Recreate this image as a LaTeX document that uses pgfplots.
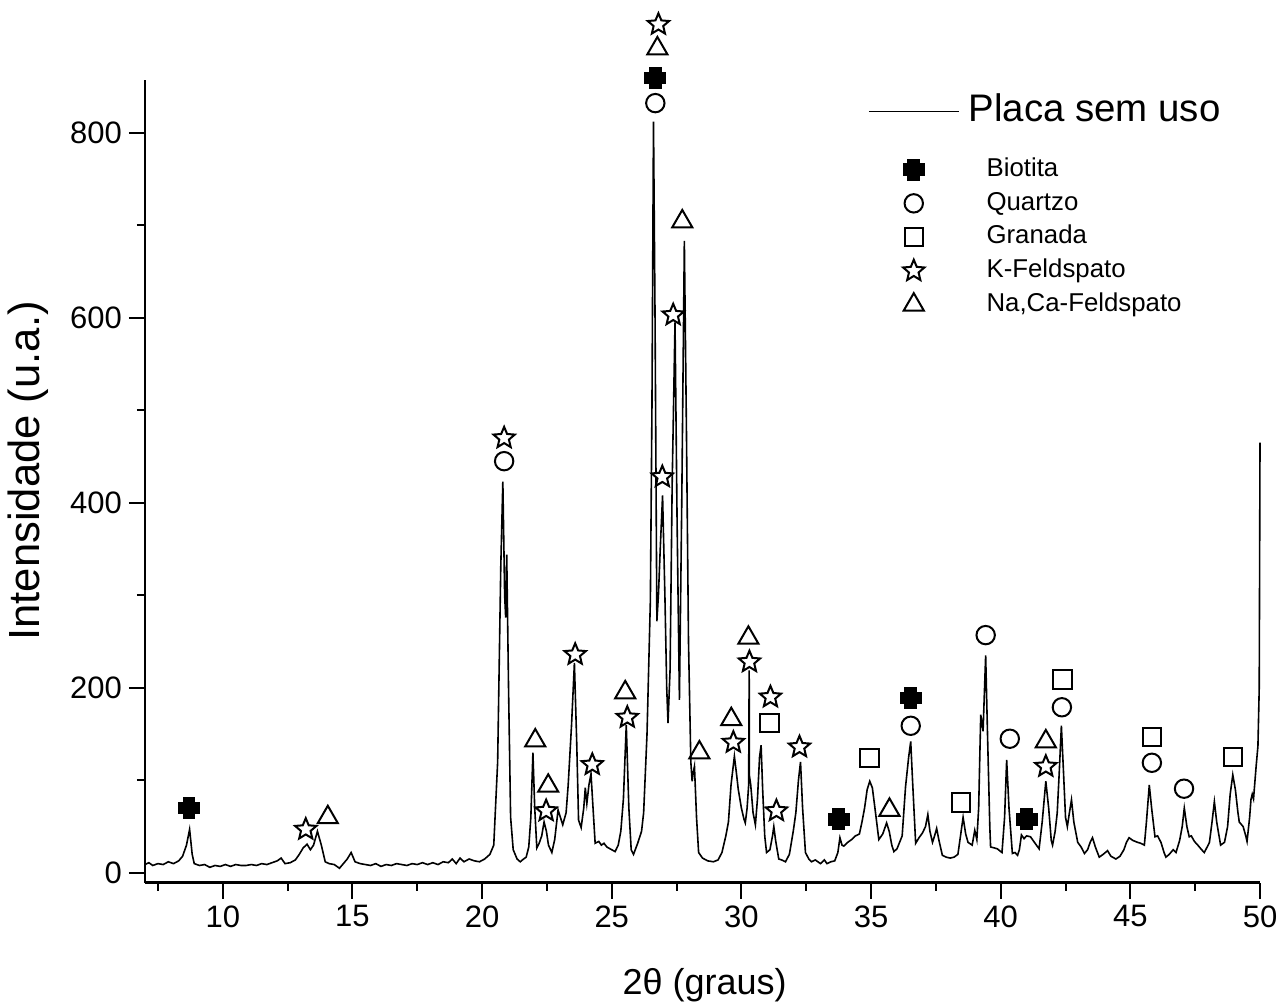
\documentclass[border=0pt]{standalone}
\usepackage{fontspec}
\setmainfont{Liberation Sans}
\usepackage{pgfplots}
\pgfplotsset{compat=1.18}

% thick filled plus used for Biotita
\pgfdeclareplotmark{fatplus}{%
  \pgfpathmoveto{\pgfqpoint{-0.55\pgfplotmarksize}{\pgfplotmarksize}}%
  \pgfpathlineto{\pgfqpoint{0.55\pgfplotmarksize}{\pgfplotmarksize}}%
  \pgfpathlineto{\pgfqpoint{0.55\pgfplotmarksize}{0.55\pgfplotmarksize}}%
  \pgfpathlineto{\pgfqpoint{\pgfplotmarksize}{0.55\pgfplotmarksize}}%
  \pgfpathlineto{\pgfqpoint{\pgfplotmarksize}{-0.55\pgfplotmarksize}}%
  \pgfpathlineto{\pgfqpoint{0.55\pgfplotmarksize}{-0.55\pgfplotmarksize}}%
  \pgfpathlineto{\pgfqpoint{0.55\pgfplotmarksize}{-\pgfplotmarksize}}%
  \pgfpathlineto{\pgfqpoint{-0.55\pgfplotmarksize}{-\pgfplotmarksize}}%
  \pgfpathlineto{\pgfqpoint{-0.55\pgfplotmarksize}{-0.55\pgfplotmarksize}}%
  \pgfpathlineto{\pgfqpoint{-\pgfplotmarksize}{-0.55\pgfplotmarksize}}%
  \pgfpathlineto{\pgfqpoint{-\pgfplotmarksize}{0.55\pgfplotmarksize}}%
  \pgfpathlineto{\pgfqpoint{-0.55\pgfplotmarksize}{0.55\pgfplotmarksize}}%
  \pgfpathclose
  \pgfusepathqfillstroke
}

% open five-point star used for K-Feldspato
\pgfdeclareplotmark{ostar}{%
  \pgfpathmoveto{\pgfqpointpolar{90}{\pgfplotmarksize}}%
  \pgfpathlineto{\pgfqpointpolar{126}{0.45\pgfplotmarksize}}%
  \pgfpathlineto{\pgfqpointpolar{162}{\pgfplotmarksize}}%
  \pgfpathlineto{\pgfqpointpolar{198}{0.45\pgfplotmarksize}}%
  \pgfpathlineto{\pgfqpointpolar{234}{\pgfplotmarksize}}%
  \pgfpathlineto{\pgfqpointpolar{270}{0.45\pgfplotmarksize}}%
  \pgfpathlineto{\pgfqpointpolar{306}{\pgfplotmarksize}}%
  \pgfpathlineto{\pgfqpointpolar{342}{0.45\pgfplotmarksize}}%
  \pgfpathlineto{\pgfqpointpolar{18}{\pgfplotmarksize}}%
  \pgfpathlineto{\pgfqpointpolar{54}{0.45\pgfplotmarksize}}%
  \pgfpathclose
  \pgfusepathqfillstroke
}

% legend sample of the measured curve, with extra room below its row
\pgfplotsset{lineleg/.style={legend image code/.code={%
  \draw[##1] (0pt,0pt) -- (45pt,0pt); \path[draw=none,fill=none] (0pt,0pt) -- (0pt,-18.1pt);}}}

\begin{document}
\begin{tikzpicture}
\begin{axis}[
  name=main,
  scale only axis,
  width=557.5pt, height=401.3pt,
  xmin=7, xmax=50,
  ymin=-10.5, ymax=857,
  axis x line*=bottom, axis y line*=left,
  axis line style={line width=1.3pt},
  xtick distance=5, minor x tick num=1,
  ytick distance=200, minor y tick num=1,
  tick align=outside,
  major tick length=8pt, minor tick length=4pt,
  every tick/.style={black, line width=1pt},
  /pgf/number format/assume math mode=true,
  tick label style={font=\fontsize{15.5pt}{17pt}\selectfont},
  xlabel={2θ (graus)},
  ylabel={Intensidade (u.a.)},
  xlabel style={font=\fontsize{18pt}{20pt}\selectfont, at={(axis description cs:0.502,-0.128)}, anchor=center},
  ylabel style={font=\fontsize{21.8pt}{24pt}\selectfont, at={(axis description cs:-0.105,0.513)}, anchor=center},
  clip=false,
  legend style={at={(axis description cs:0.6484,0.983)}, anchor=north west,
    draw=none, fill=none, inner sep=0pt, outer sep=0pt,
    row sep=4.8pt, column sep=13.5pt,
    font=\fontsize{12.9pt}{15pt}\selectfont,
    nodes={inner sep=0pt, text height=9.4pt, text depth=2.7pt}},
  legend cell align=left,
  legend image code/.code={\draw[mark repeat=2,mark phase=2,#1] plot coordinates {(0pt,0pt) (22.5pt,0pt) (45pt,0pt)};},
  mark options={solid, line width=1pt, fill=white},
]

\addplot[black, line width=0.8pt, mark=none, lineleg]
table {
x y
7.00 9
7.15 11
7.30 8
7.50 10
7.70 9
7.90 12
8.10 10
8.30 13
8.45 18
8.60 30
8.72 47
8.82 20
8.90 10
9.10 8
9.30 9
9.50 6
9.70 8
9.90 7
10.10 9
10.30 7
10.50 9
10.70 8
10.90 8
11.10 9
11.30 8
11.50 10
11.70 9
11.90 11
12.10 13
12.25 16
12.40 10
12.60 11
12.80 14
12.95 20
13.10 27
13.25 31
13.38 25
13.50 30
13.65 45
13.80 30
13.95 12
14.10 10
14.30 9
14.50 5
14.65 10
14.80 15
14.95 22
15.10 12
15.30 10
15.50 9
15.70 8
15.90 10
16.10 7
16.30 9
16.50 8
16.70 10
16.90 9
17.10 8
17.30 10
17.50 9
17.70 11
17.90 9
18.10 11
18.30 9
18.50 12
18.70 11
18.85 15
19.00 10
19.15 16
19.30 12
19.50 15
19.70 13
19.90 12
20.10 15
20.30 20
20.45 30
20.60 120
20.72 330
20.80 423
20.87 300
20.91 276
20.95 344
21.02 200
21.10 60
21.20 25
21.35 15
21.47 12
21.60 15
21.70 17
21.80 28
21.88 60
21.96 130
22.03 70
22.11 27
22.20 32
22.30 40
22.39 55
22.48 45
22.56 30
22.69 22
22.80 36
22.93 68
23.02 60
23.11 52
23.24 65
23.32 95
23.45 160
23.56 227
23.65 140
23.72 57
23.82 49
23.92 70
23.98 92
24.04 75
24.12 95
24.20 107
24.30 60
24.36 32
24.50 34
24.60 30
24.70 32
24.81 28
25.00 25
25.13 23
25.25 30
25.35 45
25.45 80
25.56 160
25.66 70
25.75 25
25.84 20
26.00 32
26.15 45
26.23 65
26.36 150
26.49 295
26.55 500
26.61 812
26.67 600
26.74 272
26.80 300
26.87 350
26.96 408
27.05 300
27.12 200
27.17 162
27.25 220
27.33 420
27.44 595
27.52 380
27.61 187
27.70 400
27.80 683
27.88 480
27.96 250
28.05 120
28.10 99
28.14 108
28.19 115
28.27 60
28.35 22
28.50 16
28.70 13
28.92 12
29.10 14
29.25 22
29.40 40
29.50 55
29.60 95
29.73 126
29.82 105
29.88 90
30.00 70
30.10 58
30.15 54
30.22 70
30.28 95
30.30 219
30.31 105
30.36 95
30.45 65
30.54 52
30.62 80
30.70 125
30.76 138
30.82 90
30.90 40
30.97 22
31.10 25
31.20 40
31.25 50
31.32 35
31.44 15
31.55 14
31.70 12
31.85 20
32.00 45
32.10 65
32.20 100
32.28 120
32.36 70
32.47 22
32.60 15
32.70 12
32.85 14
33.05 10
33.20 14
33.30 10
33.45 12
33.60 13
33.72 22
33.80 38
33.88 30
33.95 29
34.10 33
34.25 36
34.40 40
34.55 42
34.65 55
34.75 70
34.85 90
34.95 99
35.05 92
35.15 70
35.30 36
35.45 42
35.60 54
35.70 45
35.80 30
35.88 23
36.00 26
36.10 33
36.20 40
36.33 93
36.45 125
36.53 142
36.60 100
36.72 32
36.85 38
36.98 43
37.10 50
37.19 63
37.27 45
37.37 33
37.45 40
37.53 48
37.62 35
37.75 19
37.90 17
38.05 16
38.20 17
38.35 20
38.45 40
38.55 60
38.65 42
38.74 33
38.90 30
39.00 46
39.08 36
39.15 70
39.23 171
39.32 153
39.42 235
39.50 140
39.58 50
39.61 28
39.75 27
39.87 26
40.05 22
40.15 60
40.23 122
40.32 70
40.45 21
40.55 22
40.65 19
40.72 25
40.80 41
40.90 37
41.00 40
41.15 39
41.30 33
41.48 26
41.60 55
41.74 99
41.85 70
41.95 35
42.00 30
42.10 45
42.18 65
42.26 110
42.34 159
42.42 110
42.50 60
42.57 50
42.65 65
42.73 79
42.82 55
42.97 33
43.10 28
43.23 21
43.35 25
43.45 33
43.54 38
43.65 28
43.80 17
43.95 20
44.12 24
44.25 18
44.44 15
44.60 18
44.75 25
44.85 33
44.95 38
45.10 35
45.28 33
45.40 32
45.54 30
45.62 55
45.73 95
45.82 70
45.95 39
46.05 40
46.18 33
46.30 22
46.37 17
46.50 20
46.65 25
46.76 22
46.90 35
47.00 50
47.08 70
47.18 50
47.27 39
47.35 40
47.47 34
47.60 30
47.75 25
47.85 22
48.00 30
48.05 33
48.15 55
48.24 77
48.33 55
48.48 30
48.63 33
48.75 50
48.85 85
48.95 106
49.05 90
49.15 65
49.20 55
49.35 50
49.45 40
49.50 34
49.60 60
49.65 79
49.70 85
49.75 80
49.85 115
49.92 137
49.97 200
50.00 465
};
\addlegendentry[font=\fontsize{19.2pt}{21pt}\selectfont, text height=14pt, text depth=4pt]{\hspace*{-9pt}Placa sem uso}

% Biotita
\addplot[only marks, mark=fatplus, mark size=5.2pt, mark options={fill=black, line width=0.6pt}] coordinates {
  (8.69,70) (26.68,859) (33.75,58) (36.53,189) (41.00,58)
};
\addlegendentry{Biotita}

% Quartzo
\addplot[only marks, mark=o, mark size=4.6pt] coordinates {
  (20.85,445) (26.68,832) (36.53,159) (39.42,257) (40.35,145) (42.36,179) (45.83,119) (47.07,91)
};
\addlegendentry{Quartzo}

% Granada
\addplot[only marks, mark=square, mark size=4.6pt] coordinates {
  (31.08,162) (34.94,124) (38.46,76) (42.39,209) (45.83,147) (48.96,125)
};
\addlegendentry{Granada}

% K-Feldspato
\addplot[only marks, mark=ostar, mark size=5.6pt] coordinates {
  (13.20,47) (20.85,470) (22.47,67) (23.59,236) (24.25,117) (25.60,168)
  (26.80,917) (26.95,428) (27.37,603) (29.69,141) (30.31,228) (31.12,190)
  (31.35,67) (32.24,136) (41.74,115)
};
\addlegendentry{K-Feldspato}

% Na,Ca-Feldspato
\addplot[only marks, mark=triangle, mark size=5.8pt] coordinates {
  (14.05,60) (22.05,143) (22.55,94) (25.52,195) (26.76,891) (27.72,704)
  (28.38,130) (29.61,166) (30.27,254) (35.71,68) (41.74,142)
};
\addlegendentry{Na,Ca-Feldspato}

\end{axis}
\pgfresetboundingbox
\path (main.south west) ++(-72.5pt,-60.65pt) rectangle ([shift={(9.5pt,40pt)}]main.north east);
\end{tikzpicture}
\end{document}
